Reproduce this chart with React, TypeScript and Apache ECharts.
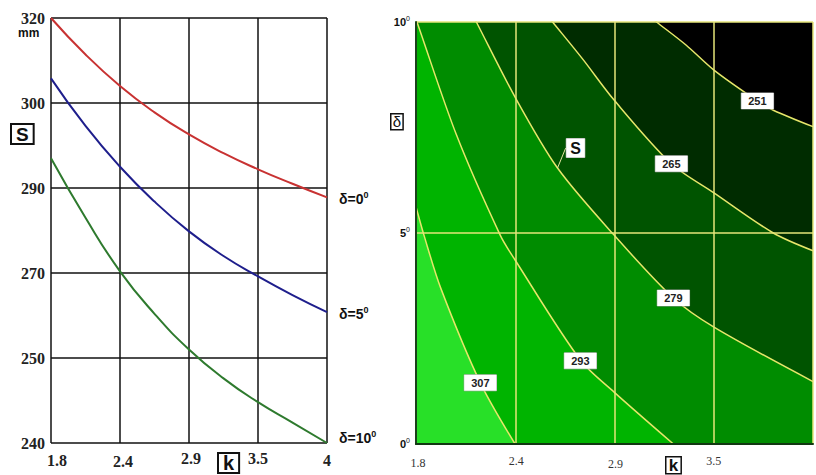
import React, { useEffect, useRef } from "react";
import * as echarts from "echarts";

// ---- data ----
const kTicks = [1.8, 2.4, 2.9, 3.5, 4];
const sTicks = [240, 250, 270, 290, 300, 320];
const deltaTicks = [0, 5, 10];

const kSample = [1.8, 2.1, 2.4, 2.65, 2.9, 3.2, 3.5, 3.75, 4];
const sDelta0 = [320, 311.4, 304.0, 298.9, 296.3, 294.1, 292.2, 290.5, 287.8];
const sDelta5 = [305.8, 297.3, 292.5, 286.8, 279.8, 274.0, 269.2, 264.8, 260.8];
const sDelta10 = [293.5, 283.0, 270.4, 260.4, 252.0, 247.6, 244.8, 242.4, 240];

const contourLevels = [251, 265, 279, 293, 307];
// contour lines of S in (k, delta)
const contour251 = [[3.154, 10], [3.334, 9.45], [3.501, 8.86], [3.72, 8.13], [3.8, 7.91], [4, 7.52]];
const contour265 = [[2.588, 10], [2.74, 9.12], [2.898, 8.15], [3.244, 6.64], [3.501, 5.95], [3.8, 5.0], [4, 4.58]];
const contour279 = [[2.165, 10], [2.399, 8.22], [2.613, 6.54], [2.898, 4.95], [3.256, 3.46], [3.501, 2.77], [4, 1.48]];
const contour293 = [[1.806, 10], [2.045, 7.32], [2.309, 4.95], [2.399, 4.36], [2.728, 1.99], [2.898, 1.23], [3.256, 0]];
const contour307 = [[1.8, 5.62], [1.848, 4.95], [1.949, 3.7], [2.189, 1.45], [2.399, 0]];
const contourLabelPos = [[3.72, 8.13], [3.244, 6.64], [3.256, 3.46], [2.728, 1.97], [2.189, 1.45]];
const sMarker = [2.613, 6.54];

const bandColors = ["#002c00", "#005400", "#008c00", "#00b400", "#28e028"];
const curveColors = ["#c83232", "#1e1e8c", "#2e7a2e"];
const curveNames = ["δ=0", "δ=5", "δ=10"];

// piecewise-linear mapping of values onto the evenly spaced tick positions
function toPos(v: number, ticks: number[]): number {
  for (let i = 0; i < ticks.length - 1; i++) {
    if (v <= ticks[i + 1]) return i + (v - ticks[i]) / (ticks[i + 1] - ticks[i]);
  }
  return ticks.length - 1;
}

// carry a contour past the plot edge along its own direction so the clipped ends look straight
function extendContour(pts: number[][]): number[][] {
  const p = pts.map((q) => [toPos(q[0], kTicks), q[1]]);
  const [p0, p1] = p;
  const dx = p0[0] - p1[0];
  const dy = p0[1] - p1[1];
  if (p0[1] >= 10) {
    const t = 3 / dy;
    const ext = [p0[0] + dx * t, p0[1] + dy * t];
    return [[Math.min(ext[0], 0) - 0.5, ext[1]], ext, ...p];
  }
  return [[p0[0] + dx, p0[1] + dy], ...p];
}

export default function App() {
  const ref = useRef<HTMLDivElement>(null);
  useEffect(() => {
    if (!ref.current) return;
    const chart = echarts.init(ref.current, null, { renderer: "svg" });

    const supRich = {
      b: { fontFamily: "Liberation Sans", fontWeight: "bold", fontSize: 14, color: "#111", lineHeight: 18 },
      s: { fontFamily: "Liberation Sans", fontWeight: "bold", fontSize: 9, color: "#111", verticalAlign: "top", lineHeight: 10 },
    };

    const curves = [sDelta0, sDelta5, sDelta10].map((arr, ci) => ({
      type: "line",
      xAxisIndex: 0,
      yAxisIndex: 0,
      smooth: 0.5,
      symbol: "none",
      z: 3,
      lineStyle: { color: curveColors[ci], width: 2 },
      data: kSample.map((k, i) => [toPos(k, kTicks), toPos(arr[i], sTicks)]),
      endLabel: {
        show: true,
        formatter: `{b|${curveNames[ci]}}{s|0}`,
        rich: supRich,
        offset: [4, ci === 2 ? -5 : 2],
      },
    }));

    const contours = [contour251, contour265, contour279, contour293, contour307].map(extendContour);
    const fills = contours.map((c, i) => ({
      type: "line",
      xAxisIndex: 1,
      yAxisIndex: 1,
      smooth: 0.3,
      symbol: "none",
      z: 2,
      lineStyle: { width: 0, opacity: 0 },
      areaStyle: { color: bandColors[i], opacity: 1 },
      data: c,
    }));
    const lines = contours.map((c) => ({
      type: "line",
      xAxisIndex: 1,
      yAxisIndex: 1,
      smooth: 0.3,
      symbol: "none",
      z: 3,
      lineStyle: { width: 1.5, color: "#e6e66a" },
      data: c,
    }));

    const boxLabel = {
      show: true,
      position: "inside",
      backgroundColor: "#ffffff",
      borderColor: "#999",
      borderWidth: 0.5,
      fontFamily: "Liberation Sans",
      fontWeight: "bold",
      color: "#222",
      opacity: 1,
    };

    const leftXRich: any = {};
    const leftPad = [[2, 0, 0, 12], [3, 0, 0, 6], [0, 0, 0, 4], [0, 0, 0, 0], [2, 0, 0, 0]];
    leftPad.forEach((p, i) => {
      leftXRich["t" + i] = {
        fontFamily: "Liberation Serif",
        fontWeight: "bold",
        fontSize: 16,
        color: "#222",
        padding: p,
      };
    });
    const rightXRich: any = {};
    const rightPad = [[2, 0, 0, 4], [0, 0, 0, 2], [3, 0, 0, 2], [0, 0, 0, 0], [0, 0, 0, 0]];
    rightPad.forEach((p, i) => {
      rightXRich["t" + i] = {
        fontFamily: "Liberation Serif",
        fontSize: 12,
        color: "#333",
        padding: p,
      };
    });

    const option: any = {
      animation: false,
      grid: [
        { left: 51, top: 18, width: 276, height: 425, show: false },
        { left: 416, top: 22, width: 402, height: 422, show: true, backgroundColor: "#000", borderWidth: 0 },
      ],
      xAxis: [
        {
          type: "value",
          gridIndex: 0,
          min: 0,
          max: 4,
          interval: 1,
          axisLine: { show: false },
          axisTick: { show: false },
          splitLine: { show: true, lineStyle: { color: "#111", width: 1.5 } },
          axisLabel: {
            margin: 7,
            rich: leftXRich,
            formatter: (v: number) => `{t${Math.round(v)}|${kTicks[Math.round(v)]}}`,
          },
        },
        {
          type: "value",
          gridIndex: 1,
          min: 0,
          max: 4,
          interval: 1,
          z: 10,
          axisLine: { show: true, lineStyle: { color: "#123812", width: 2 } },
          axisTick: { show: false },
          splitLine: { show: true, showMinLine: false, lineStyle: { color: "#e6e67a", width: 1.5 } },
          axisLabel: {
            margin: 11,
            rich: rightXRich,
            formatter: (v: number) =>
              Math.round(v) < 4 ? `{t${Math.round(v)}|${kTicks[Math.round(v)]}}` : "",
          },
        },
      ],
      yAxis: [
        {
          type: "value",
          gridIndex: 0,
          min: 0,
          max: 5,
          interval: 1,
          axisLine: { show: false },
          axisTick: { show: false },
          splitLine: { show: true, lineStyle: { color: "#111", width: 1.5 } },
          axisLabel: {
            margin: 6,
            fontFamily: "Liberation Serif",
            fontWeight: "bold",
            fontSize: 16,
            color: "#222",
            formatter: (v: number) => String(sTicks[Math.round(v)]),
          },
        },
        {
          type: "value",
          gridIndex: 1,
          min: 0,
          max: 10,
          interval: 5,
          z: 10,
          axisLine: { show: true, lineStyle: { color: "#1c421c", width: 2 } },
          axisTick: { show: false },
          splitLine: { show: true, showMinLine: false, lineStyle: { color: "#e6e67a", width: 1.5 } },
          axisLabel: {
            margin: 6,
            formatter: (v: number) => `{b|${deltaTicks[Math.round(v / 5)]}}{s|0}`,
            rich: {
              b: { fontFamily: "Liberation Sans", fontWeight: "bold", fontSize: 11, color: "#111", lineHeight: 14 },
              s: { fontFamily: "Liberation Sans", fontSize: 7, color: "#111", verticalAlign: "top", lineHeight: 8 },
            },
          },
        },
      ],
      series: [
        ...curves,
        ...fills,
        ...lines,
        {
          type: "scatter",
          xAxisIndex: 1,
          yAxisIndex: 1,
          z: 12,
          symbolSize: 0,
          itemStyle: { color: "#ffffff", opacity: 1 },
          data: contourLabelPos.map((p, i) => [toPos(p[0], kTicks), p[1], contourLevels[i]]),
          label: {
            ...boxLabel,
            formatter: (p: any) => String(p.value[2]),
            padding: [3, 7, 2, 7],
            fontSize: 11,
          },
        },
        {
          type: "scatter",
          xAxisIndex: 1,
          yAxisIndex: 1,
          z: 12,
          symbolSize: 0,
          itemStyle: { color: "#ffffff", opacity: 1 },
          data: [[toPos(sMarker[0], kTicks), sMarker[1]]],
          label: {
            ...boxLabel,
            formatter: "S",
            padding: [2, 4, 1, 4],
            fontSize: 16,
            color: "#111",
          },
          labelLayout: { dx: 18, dy: -20 },
          labelLine: { show: true, lineStyle: { color: "#e6e6a0", width: 1 } },
        },
      ],
      graphic: [
        {
          type: "text",
          left: 18,
          top: 27,
          style: { text: "mm", font: "bold 12px 'Liberation Sans'", fill: "#111" },
        },
        {
          type: "text",
          left: 10,
          top: 123,
          style: {
            text: "S",
            font: "bold 19px 'Liberation Sans'",
            fill: "#111",
            borderColor: "#111",
            borderWidth: 2,
            padding: [0, 5, 0, 5],
            lineHeight: 20,
          },
        },
        {
          type: "text",
          left: 217,
          top: 452,
          style: {
            text: "k",
            font: "bold 20px 'Liberation Sans'",
            fill: "#111",
            borderColor: "#111",
            borderWidth: 2,
            padding: [0, 5, 0, 5],
            lineHeight: 20,
          },
        },
        {
          type: "text",
          left: 390,
          top: 113,
          style: {
            text: "δ",
            font: "15px 'Liberation Sans'",
            fill: "#111",
            borderColor: "#111",
            borderWidth: 1.5,
            padding: [0, 2, 0, 2],
            lineHeight: 16,
          },
        },
        {
          type: "text",
          left: 665,
          top: 456,
          style: {
            text: "k",
            font: "bold 17px 'Liberation Sans'",
            fill: "#111",
            borderColor: "#111",
            borderWidth: 1.5,
            padding: [0, 3, 0, 3],
            lineHeight: 17,
          },
        },
      ],
    };

    chart.setOption(option);
    return () => chart.dispose();
  }, []);

  return (
    <div
      ref={ref}
      style={{ position: "fixed", left: 0, top: 0, width: 816, height: 475, background: "#fff" }}
    />
  );
}
